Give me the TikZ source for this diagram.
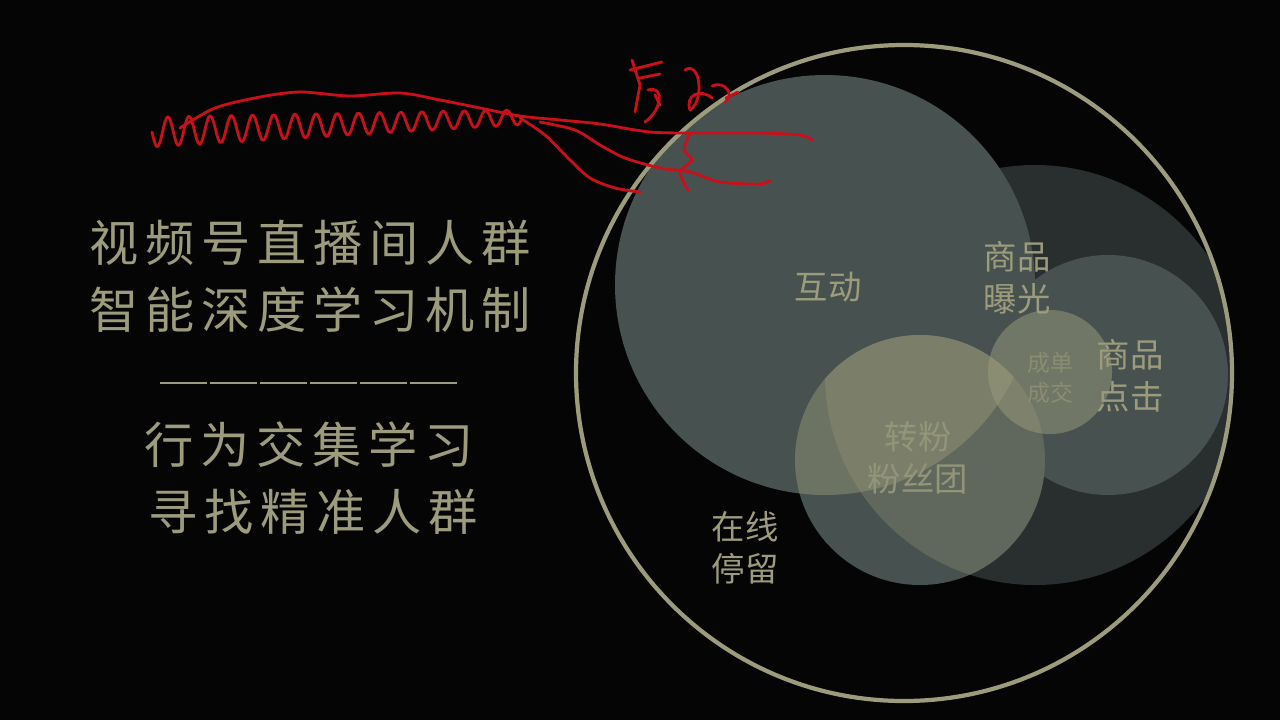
\documentclass[tikz,border=0pt]{standalone}
\usepackage{fontspec}
\setmainfont{Noto Sans CJK SC}
\usepackage{tikz}
\definecolor{bgdark}{HTML}{050505}
\definecolor{slate}{HTML}{475250}
\definecolor{olive}{HTML}{9C9C7C}
\definecolor{inkred}{HTML}{C8101A}
\tikzset{zone/.style={circle, fill=slate, draw=none},
  lbl/.style={text=olive, align=center, font=\fontsize{19}{24}\selectfont},
  title/.style={text=olive, font=\fontsize{28}{34}\selectfont\addfontfeature{LetterSpace=14}},
  scrawl/.style={draw=inkred, line width=1.6pt, line join=round, line cap=round}}

\begin{document}
\begin{tikzpicture}[x=0.02cm,y=-0.02cm]
\fill[bgdark] (0,0) rectangle (1280,720);
\useasboundingbox (0,0) rectangle (1280,720);
% left titles
\node[title] (t1) at (310,243) {视频号直播间人群};
\node[title] (t2) at (310,310) {智能深度学习机制};
\node[title] (t3) at (309,445) {行为交集学习};
\node[title] (t4) at (313,512) {寻找精准人群};
\coordinate (dl) at (160,383);
\coordinate (dr) at (458,383);
\draw[olive, line width=1.3pt, dash pattern=on 26.5pt off 2pt] (dl) -- (dr);
% circles
\fill[slate] (825,285) circle (210);
\begin{scope}
  \clip (904,373) circle (327);
  \fill[slate, opacity=0.55] (1035,375) circle (210);
\end{scope}
\fill[slate] (1108,375) circle (120);
\fill[slate] (920,460) circle (125);
\begin{scope}
  \clip (920,460) circle (125);
  \fill[olive, opacity=0.45] (825,285) circle (210);
  \fill[olive, opacity=0.3] (1035,375) circle (210);
\end{scope}
\fill[olive, opacity=0.5] (1050,372) circle (62);
\draw[olive, line width=2.4pt] (904,373) circle (328);
% labels
\node[lbl] (hudong) at (828,287) {互动};
\node[lbl] (baoguang) at (1017,278) {商品\\曝光};
\node[lbl] (dianji) at (1130,376) {商品\\点击};
\node[lbl, font=\fontsize{13}{17}\selectfont, text=olive!80!slate] (chengjiao) at (1050,378) {成单\\成交};
\node[lbl, text=olive!90!slate] (zhuanfen) at (918,458) {转粉\\粉丝团};
\node[lbl] (tingliu) at (745,548) {在线\\停留};
% red annotations
\draw[scrawl] plot[smooth, domain=152:522, samples=170] (\x, {132-0.04*(\x-152)+(15-0.02*(\x-152))*sin(17*(\x-152))});
\draw[scrawl] plot[smooth] coordinates {(180,128) (215,108) (260,97) (300,92) (350,96) (400,93) (440,100) (480,108) (520,116) (560,120) (600,124) (650,132) (700,133) (760,133) (800,135) (812,140)};
\draw[scrawl] plot[smooth] coordinates {(520,118) (545,135) (570,160) (590,178) (615,188) (640,192)};
\draw[scrawl] plot[smooth] coordinates {(540,122) (575,130) (600,145) (625,158) (660,168) (690,172) (720,182) (760,184) (770,180)};
\draw[scrawl] plot[smooth] coordinates {(690,133) (684,150) (692,160) (680,172) (688,190)};
\draw[scrawl] (632,60) -- (640,85) -- (635,112) (630,70) -- (662,62) (640,78) -- (660,74) (648,90) .. controls (665,85) and (662,110) .. (645,122) (655,95) -- (660,105);
\draw[scrawl] (685,70) .. controls (700,60) and (705,100) .. (690,110) .. controls (685,95) and (700,88) .. (712,98) (712,86) .. controls (725,80) and (735,95) .. (725,102) (726,98) -- (738,92);
\end{tikzpicture}
\end{document}
